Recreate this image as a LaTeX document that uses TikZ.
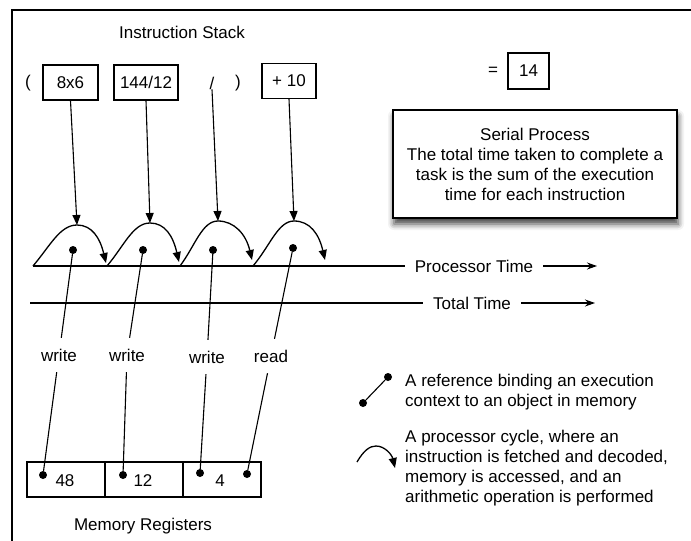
\documentclass[tikz,border=0pt]{standalone}
\usepackage{fontspec}
\setmainfont{Liberation Sans}
\usetikzlibrary{arrows.meta,shadows.blur}

\begin{document}
\begin{tikzpicture}[x=1pt,y=-1pt,
  font=\fontsize{17}{20}\selectfont,
  every node/.style={inner sep=0pt},
  box/.style={draw,line width=1.1pt,minimum height=35pt},
  cell/.style={draw,line width=1.1pt,minimum height=35pt,minimum width=78pt},
  dot/.style={circle,fill,minimum size=8pt},
  wire/.style={line width=1.1pt},
  feed/.style={line width=1.1pt,-{Triangle[length=10pt,width=8pt]}},
  cyc/.style={line width=1.3pt,-{Triangle[length=10pt,width=8pt]}},
  tag/.style={minimum height=34pt,minimum width=40pt},
]
\useasboundingbox (0,0) rectangle (691,541);

% frame
\draw[line width=1.6pt] (691,10) -- (12,10) -- (12,541);

% instruction stack
\node (title) at (182,32) {Instruction Stack};
\node (lpar) at (28,83) {(};
\node[box,minimum width=55pt] (i1) at (70.5,82.5) {8x6};
\node[box,minimum width=64pt] (i2) at (146,82.5) {144/12};
\node (i3) at (212,83) {/};
\node (rpar) at (238,83) {)};
\node[box,minimum width=54pt] (i4) at (289,81) {+ 10};

% result
\node (eq) at (493,71) {=};
\node[box,minimum width=41pt,minimum height=36pt] (res) at (528.5,71) {14};

% explanation box
\node[draw,line width=1.1pt,fill=white,minimum width=284pt,minimum height=108pt,
      align=center,
      blur shadow={shadow xshift=1pt,shadow yshift=-6pt,shadow blur radius=6pt,shadow opacity=75}]
  (serial) at (535,164)
  {Serial Process\\The total time taken to complete a\\task is the sum of the execution\\time for each instruction};

% processor cycles
\coordinate (pk1) at (77,225);
\coordinate (pk2) at (150,223);
\coordinate (pk3) at (218,221);
\coordinate (pk4) at (294,221);
\draw[cyc] (33,266) .. controls (50,246) and (60,225) .. (pk1)
  .. controls (92,225) and (100,238) .. (106,263);
\draw[cyc] (107,266) .. controls (124,246) and (133,223) .. (pk2)
  .. controls (165,223) and (173,236) .. (179,262);
\draw[cyc] (180,266) .. controls (195,246) and (202,221) .. (pk3)
  .. controls (234,221) and (246,234) .. (252,260);
\draw[cyc] (253,266) .. controls (270,246) and (278,221) .. (pk4)
  .. controls (310,221) and (319,234) .. (325,260);

% instructions feeding the cycles
\draw[feed] (i1.south) -- (pk1);
\draw[feed] (i2.south) -- (pk2);
\draw[feed] (i3.south) -- (pk3);
\draw[feed] (i4.south) -- (pk4);

% time axes
\coordinate (pstart) at (33,266);
\node[inner xsep=10pt] (ptime) at (474,266) {Processor Time};
\coordinate (pend) at (597,266);
\draw[wire] (pstart) -- (ptime.west);
\draw[line width=1.1pt,-{Stealth[length=10pt,width=7pt]}] (ptime.east) -- (pend);

\coordinate (tstart) at (30,303);
\node[inner xsep=10pt] (ttime) at (472,303) {Total Time};
\coordinate (tend) at (595,303);
\draw[wire] (tstart) -- (ttime.west);
\draw[line width=1.1pt,-{Stealth[length=10pt,width=7pt]}] (ttime.east) -- (tend);

% execution context dots
\node[dot] (c1) at (73,250) {};
\node[dot] (c2) at (143,250) {};
\node[dot] (c3) at (213,250) {};
\node[dot] (c4) at (293,248) {};

% memory registers
\node[cell] (m1) at (66,479.5) {};
\node[cell] (m2) at (144,479.5) {};
\node[cell] (m3) at (222,479.5) {};
\node (v1) at (65,481) {48};
\node (v2) at (143,481) {12};
\node (v3) at (220,481) {4};
\node (memtitle) at (143,526) {Memory Registers};

\node[dot] (r1) at (43,475) {};
\node[dot] (r2) at (123,475) {};
\node[dot] (r3) at (200,473) {};
\node[dot] (r4) at (247,474) {};

% references
\node[tag] (w1) at (59,355) {write};
\node[tag] (w2) at (127,355) {write};
\node[tag] (w3) at (207,357) {write};
\node[tag] (w4) at (271,356) {read};
\draw[wire] (c1) -- (w1) -- (r1);
\draw[wire] (c2) -- (w2) -- (r2);
\draw[wire] (c3) -- (w3) -- (r3);
\draw[wire] (c4) -- (w4) -- (r4);

% legend
\node[dot] (la) at (363,403) {};
\node[dot] (lb) at (388,377) {};
\draw[wire] (la) -- (lb);
\node[anchor=west,align=left] (legref) at (405,392)
  {A reference binding an execution\\context to an object in memory};

\coordinate (ca) at (357,462);
\coordinate (cb) at (395,468);
\draw[cyc] (ca) .. controls (364,450) and (370,446) .. (376,446)
  .. controls (385,446) and (392,455) .. (cb);
\node[anchor=west,align=left] (legcyc) at (405,468)
  {A processor cycle, where an\\instruction is fetched and decoded,\\memory is accessed, and an\\arithmetic operation is performed};
\end{tikzpicture}
\end{document}
